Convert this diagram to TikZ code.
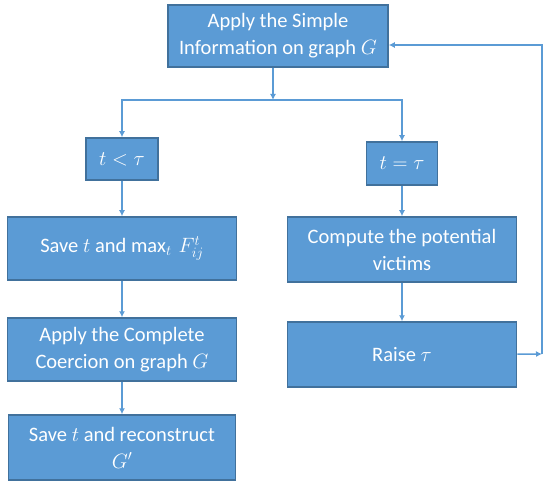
\documentclass[tikz,border=0pt]{standalone}
\usepackage{fontspec}
\setmainfont{Carlito}
\usepackage{tikz}
\usetikzlibrary{positioning,arrows.meta}
\definecolor{boxblue}{HTML}{5B9BD5}
\definecolor{edgeblue}{HTML}{41719C}

\begin{document}
\begin{tikzpicture}[
  x=1pt, y=-1pt,
  stepbox/.style={draw=edgeblue, line width=1.5pt, fill=boxblue, text=white, align=center,
    font=\fontsize{20.5}{27}\selectfont, inner sep=2pt},
  arr/.style={draw=boxblue, line width=1.5pt, -{Latex[length=6pt,width=6pt]}}
]
  \useasboundingbox (0,0) rectangle (544,484);

  % start and the two branches
  \node[stepbox, minimum width=220pt, minimum height=62pt] (simple) at (278,36) {Apply the Simple\\Information on graph $G$};
  \node[stepbox, minimum width=72pt, minimum height=42pt] (less) at (122,159) {$t<\tau$};
  \node[stepbox, minimum width=71pt, minimum height=43pt] (equal) at (402,163.5) {$t=\tau$};

  % left branch
  \node[stepbox, minimum width=229pt, minimum height=63pt] (savemax) at (122,248.5) {Save $t$ and $\max_t\, F^t_{ij}$};
  \node[stepbox, minimum width=229pt, minimum height=63pt] (coercion) at (122,349.5) {Apply the Complete\\Coercion on graph $G$};
  \node[stepbox, minimum width=227pt, minimum height=65pt] (rebuild) at (122,447.5) {Save $t$ and reconstruct\\$G'$};

  % right branch
  \node[stepbox, minimum width=229pt, minimum height=65pt] (victims) at (402,249.5) {Compute the potential\\victims};
  \node[stepbox, minimum width=229pt, minimum height=65pt] (raise) at (402,354.5) {Raise $\tau$};

  \coordinate (split) at (273,100);
  \coordinate (back) at (542,354);
  \coordinate (backtop) at (542,45);

  \draw[arr] (split |- simple.south) -- (split);
  \draw[arr] (split) -| (less);
  \draw[arr] (split) -| (equal);
  \draw[arr] (less) -- (savemax);
  \draw[arr] (savemax) -- (coercion);
  \draw[arr] (coercion) -- (rebuild);
  \draw[arr] (equal) -- (victims);
  \draw[arr] (victims) -- (raise);
  \draw[arr] (raise) -- (back);
  \draw[arr] (back) -- (backtop) -- (backtop -| simple.east);
\end{tikzpicture}
\end{document}
